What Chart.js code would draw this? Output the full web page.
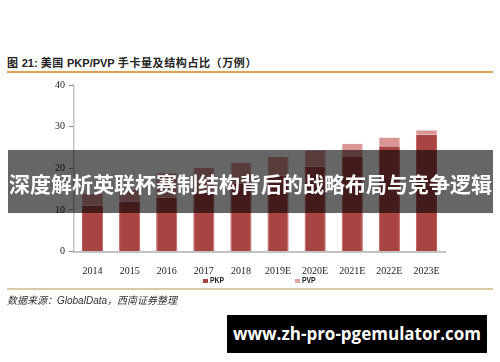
<!DOCTYPE html>
<html><head><meta charset="utf-8">
<script src="https://cdn.jsdelivr.net/npm/chart.js@4/dist/chart.umd.min.js"></script>
<style>
html,body{margin:0;padding:0;width:500px;height:362px;overflow:hidden;background:#fff;}
body{position:relative;font-family:"Liberation Sans",Arial,sans-serif;}
#title{position:absolute;left:7px;top:54px;font:bold 11px "Noto Sans CJK SC",sans-serif;color:#222;white-space:nowrap;line-height:16px;letter-spacing:0.6px;}
#title .lat{font-family:"Liberation Sans",Arial,sans-serif;letter-spacing:0;}
#topline{position:absolute;left:7px;top:71px;width:486px;height:1.5px;background:#dba556;}
#wrap{position:absolute;left:0;top:75px;width:500px;height:205px;}
#legend{position:absolute;left:0;top:274px;width:500px;height:12px;}
.li{position:absolute;top:0;height:12px;}
.sw{position:absolute;top:4.5px;left:0;width:4.5px;height:4.5px;}
.lt{position:absolute;left:6.5px;top:0;font:bold 9.5px "Liberation Sans",Arial,sans-serif;line-height:12px;color:#222;transform:scaleX(0.72);transform-origin:0 0;white-space:nowrap;}
#botline{position:absolute;left:7px;top:288px;width:486px;height:2px;background:#dccaa5;}
#source{position:absolute;left:7px;top:292px;font:italic 10px "Noto Sans CJK SC",sans-serif;color:#333;white-space:nowrap;line-height:15px;}
#source .lat{font-family:"Liberation Sans",Arial,sans-serif;}
#banner{position:absolute;left:8px;top:150px;width:485px;height:63px;background:rgba(0,0,0,0.6);color:#fff;font:bold 21px "Noto Sans CJK SC",sans-serif;text-align:center;line-height:63px;white-space:nowrap;overflow:hidden;}
#banner span{position:relative;top:2px;}
#url{position:absolute;left:227px;top:315px;width:260px;height:38px;background:#000;color:#fff;font:bold 17px "Open Sans","DejaVu Sans",sans-serif;text-align:center;line-height:38px;white-space:nowrap;}
</style></head><body>
<div id="title">图 <span class="lat">21:</span> 美国 <span class="lat">PKP/PVP</span> 手卡量及结构占比（万例）</div>
<div id="topline"></div>
<div id="wrap"><canvas id="c" width="500" height="205"></canvas></div>
<div id="legend"></div>
<div id="botline"></div>
<div id="source">数据来源：<span class="lat">GlobalData</span>，西南证券整理</div>
<div id="banner"><span>深度解析英联杯赛制结构背后的战略布局与竞争逻辑</span></div>
<div id="url">www.zh-pro-pgemulator.com</div>
<script>
const categories = ['2014','2015','2016','2017','2018','2019E','2020E','2021E','2022E','2023E'];
const pkpValues = [11.0, 12.0, 13.0, 14.6, 16.3, 18.2, 20.4, 22.7, 25.3, 28.1];
const pvpValues = [2.8, 2.8, 5.8, 5.5, 5.0, 4.5, 3.9, 3.2, 2.1, 1.0];
const seriesNames = ['PKP', 'PVP'];
const seriesColors = ['#a84442', '#d99694'];
const seriesBorders = ['#bd5d5b', '#e3aeac'];
const yTicks = [0, 10, 20, 30, 40];

const legendX = [203, 295];
const legendSwatch = ['#a84442', '#e0a3a2'];
const lg = document.getElementById('legend');
seriesNames.forEach((n, i) => {
  const d = document.createElement('div');
  d.className = 'li';
  d.style.left = legendX[i] + 'px';
  d.innerHTML = '<div class="sw" style="background:' + legendSwatch[i] + '"></div><div class="lt">' + n + '</div>';
  lg.appendChild(d);
});

const serif = {family: '"Liberation Serif","Times New Roman",serif', size: 10};
new Chart(document.getElementById('c'), {
  type: 'bar',
  data: {
    labels: categories,
    datasets: [
      {label: seriesNames[0], data: pkpValues, backgroundColor: seriesColors[0], borderColor: seriesBorders[0], borderWidth: {left: 1, right: 1, top: 0, bottom: 0}, borderSkipped: false},
      {label: seriesNames[1], data: pvpValues, backgroundColor: seriesColors[1], borderColor: seriesBorders[1], borderWidth: {left: 1, right: 1, top: 0, bottom: 0}, borderSkipped: false}
    ]
  },
  options: {
    responsive: false,
    devicePixelRatio: 1,
    animation: false,
    layout: {padding: {left: 0, right: 55, top: 8, bottom: 0}},
    datasets: {bar: {categoryPercentage: 1, barPercentage: 0.57}},
    plugins: {legend: {display: false}, tooltip: {enabled: false}},
    scales: {
      x: {
        stacked: true,
        grid: {display: false},
        border: {display: true, color: '#c3c3c3', width: 2},
        ticks: {font: serif, color: '#222', padding: 6, maxRotation: 0, autoSkip: false},
        afterFit: s => { s.height = 28.5; }
      },
      y: {
        stacked: true,
        min: 0, max: 40,
        afterBuildTicks: s => { s.ticks = yTicks.map(v => ({value: v})); },
        ticks: {font: serif, color: '#222', padding: 4},
        grid: {display: true, drawOnChartArea: false, drawTicks: true, tickLength: 5, color: '#8c8c8c'},
        border: {display: true, color: '#c3c3c3', width: 1.5},
        afterFit: s => { s.width = 74; }
      }
    }
  }
});
</script>
</body></html>
